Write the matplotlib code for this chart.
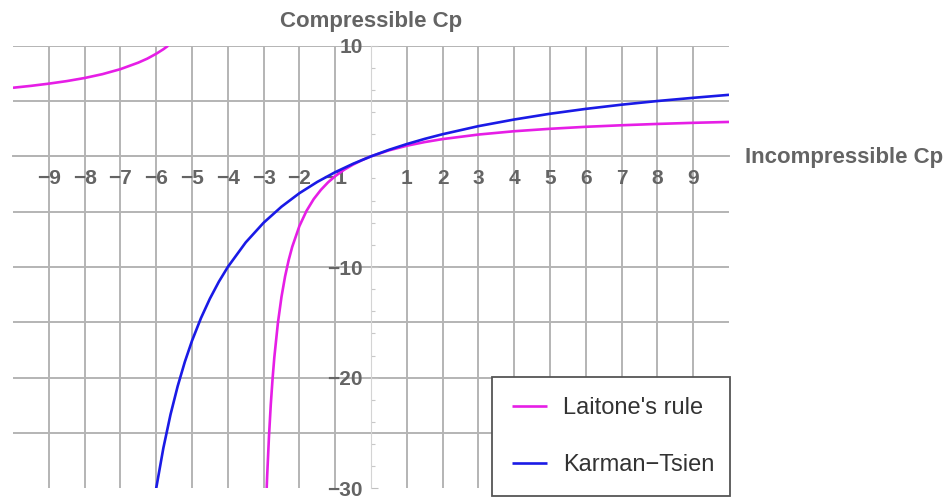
import matplotlib
matplotlib.use("Agg")
import matplotlib.pyplot as plt
from matplotlib.ticker import FixedLocator, MultipleLocator

# ---- data ----
kt_x = [-6.0, -5.8, -5.6, -5.4, -5.2, -5.0, -4.75, -4.5, -4.25, -4.0, -3.5, -3.0,
        -2.5, -2.0, -1.5, -1.0, -0.5, 0.0, 0.5, 1.0, 1.5, 2.0, 3.0, 4.0, 5.0,
        6.0, 7.0, 8.0, 9.0, 10.0]
kt_y = [-30.0, -26.36, -23.33, -20.77, -18.57, -16.67, -14.62, -12.86, -11.33,
        -10.0, -7.78, -6.0, -4.55, -3.33, -2.31, -1.43, -0.67, 0.0, 0.59, 1.11,
        1.58, 2.0, 2.73, 3.33, 3.85, 4.29, 4.67, 5.0, 5.29, 5.56]

lait_x_right = [-2.914, -2.9, -2.85, -2.8, -2.75, -2.7, -2.6, -2.5, -2.4, -2.3,
                -2.2, -2.0, -1.8, -1.6, -1.4, -1.2, -1.0, -0.75, -0.5, -0.25,
                0.0, 0.5, 1.0, 1.5, 2.0, 3.0, 4.0, 5.0, 6.0, 7.0, 8.0, 9.0, 10.0]
lait_y_right = [-30.0, -28.85, -25.32, -22.46, -20.12, -18.15, -15.04, -12.69,
                -10.85, -9.38, -8.17, -6.30, -4.92, -3.86, -3.03, -2.35, -1.79,
                -1.21, -0.74, -0.34, 0.0, 0.54, 0.96, 1.29, 1.56, 1.97, 2.27,
                2.49, 2.67, 2.81, 2.93, 3.03, 3.11]

lait_x_left = [-10.0, -9.5, -9.0, -8.5, -8.0, -7.5, -7.0, -6.5, -6.25, -6.0, -5.8, -5.666]
lait_y_left = [6.20, 6.37, 6.57, 6.80, 7.08, 7.43, 7.88, 8.47, 8.83, 9.27, 9.68, 10.0]

x_ticks = [-9, -8, -7, -6, -5, -4, -3, -2, -1, 1, 2, 3, 4, 5, 6, 7, 8, 9]
y_ticks = [-30, -20, -10, 10]
y_grid = [-25, -20, -15, -10, -5, 0, 5, 10]

series_labels = ["Laitone's rule", "Karman\u2212Tsien"]
x_label = "Incompressible Cp"
y_label = "Compressible Cp"

# ---- figure ----
plt.rcParams['font.family'] = ['Liberation Sans', 'DejaVu Sans']
W, H = 948, 498
fig = plt.figure(figsize=(W / 100, H / 100), dpi=100)
left, right, top, bottom = 13, 729, 45.7, 488.3
ax = fig.add_axes([left / W, 1 - bottom / H, (right - left) / W, (bottom - top) / H])
ax.set_xlim(-10, 10)
ax.set_ylim(-30, 10)

grid_c = '#b4b4b4'
for gx in x_ticks:
    ax.axvline(gx, color=grid_c, lw=1.4, zorder=1)
for gy in y_grid:
    ax.axhline(gy, color=grid_c, lw=1.4, zorder=1)

mag = '#e61ee6'
blu = '#1a1ae6'
l1, = ax.plot(lait_x_left, lait_y_left, color=mag, lw=1.9, zorder=3, solid_capstyle='butt')
ax.plot(lait_x_right, lait_y_right, color=mag, lw=1.9, zorder=3, solid_capstyle='butt')
l2, = ax.plot(kt_x, kt_y, color=blu, lw=1.9, zorder=4, solid_capstyle='butt')

# axes through origin
for s in ['top', 'right']:
    ax.spines[s].set_visible(False)
ax.spines['left'].set_position(('data', 0))
ax.spines['bottom'].set_position(('data', 0))
ax.spines['left'].set_color('#d4d4d4')
ax.spines['left'].set_linewidth(0.8)
ax.spines['bottom'].set_color(grid_c)
ax.spines['bottom'].set_linewidth(1.4)

ax.xaxis.set_major_locator(FixedLocator(x_ticks))
ax.set_xticklabels([("\u2212%d" % -v) if v < 0 else str(v) for v in x_ticks])
ax.yaxis.set_major_locator(FixedLocator(y_ticks))
ax.set_yticklabels([("\u2212%d" % -v) if v < 0 else str(v) for v in y_ticks])
ax.yaxis.set_minor_locator(MultipleLocator(2))

lab_c = '#646464'
ax.tick_params(axis='x', length=0, pad=9, labelsize=15, labelcolor=lab_c)
ax.tick_params(axis='y', which='major', direction='in', length=5, width=0.8,
               color='#c0c0c0', pad=6, labelsize=15, labelcolor=lab_c)
ax.tick_params(axis='y', which='minor', direction='in', length=3, width=0.8, color='#c8c8c8')
for t in ax.get_xticklabels() + ax.get_yticklabels():
    t.set_fontweight('bold')

fig.text(371.5 / W, 1 - 21 / H, y_label, ha='center', va='center',
         fontsize=16, fontweight='bold', color=lab_c)
fig.text(745 / W, 1 - 157 / H, x_label, ha='left', va='center',
         fontsize=16, fontweight='bold', color=lab_c)

leg = ax.legend([l1, l2], series_labels, loc='upper left',
                bbox_to_anchor=(0.669, -0.004, 0.333, 0.256), mode='expand',
                fontsize=17, frameon=True, fancybox=False, borderpad=0.85,
                labelspacing=1.5, handlelength=1.5, handletextpad=0.65,
                borderaxespad=0)
leg.get_frame().set_edgecolor('#555555')
leg.get_frame().set_linewidth(1.3)
leg.get_frame().set_alpha(1)
for t in leg.get_texts():
    t.set_color('#333333')

fig.savefig('out.png', dpi=100)
